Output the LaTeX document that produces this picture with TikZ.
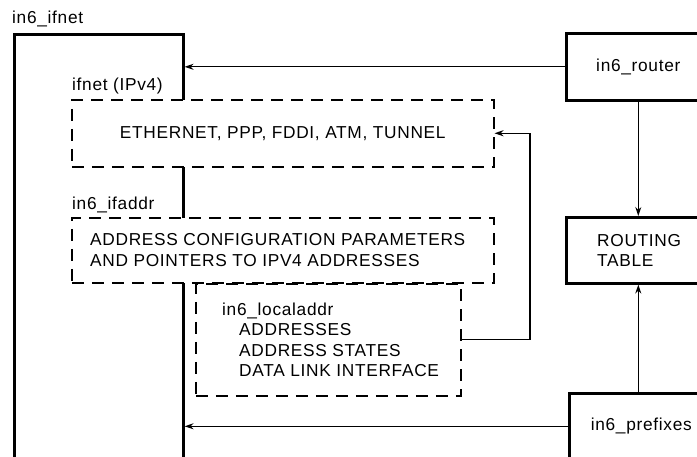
\documentclass[tikz,border=0pt]{standalone}
\usepackage{fontspec}
\setmainfont{Liberation Sans}[LetterSpace=4]
\usetikzlibrary{arrows.meta,positioning}
\tikzset{
  solidbox/.style={draw, line width=2.6pt, inner sep=0pt},
  dashbox/.style={draw, fill=white, line width=1.5pt, dash pattern=on 12pt off 8pt, inner sep=0pt},
  link/.style={-{Stealth[length=9pt, width=6pt]}, line width=1.2pt},
  lbl/.style={font=\fontsize{17.3}{20.5}\selectfont, inner sep=0pt},
  body/.style={lbl, align=left},
}

\begin{document}
\begin{tikzpicture}[x=1pt, y=-1pt]
  \useasboundingbox (0,0) rectangle (697,456);
  \clip (0,0) rectangle (697,456);
  % outer structure
  \node[solidbox, anchor=north west, minimum width=169pt, minimum height=450pt] (ifnet) at (13,33) {};
  \node[lbl, anchor=base west] (ifnetlbl) at (12,23) {in6\_ifnet};
  % interface list (IPv4)
  \node[dashbox, anchor=north west, minimum width=422pt, minimum height=67pt] (ipv4) at (71,99) {};
  \node[lbl] (ipv4txt) at (ipv4.center) {ETHERNET, PPP, FDDI, ATM, TUNNEL};
  \node[lbl, anchor=base west] (ipv4lbl) at (72,90) {ifnet (IPv4)};
  % per-interface address data
  \node[dashbox, anchor=north west, minimum width=422pt, minimum height=65pt] (ifaddr) at (71,217) {};
  \node[body, anchor=west] (ifaddrtxt) at ([xshift=19pt]ifaddr.west)
    {ADDRESS CONFIGURATION PARAMETERS\\AND POINTERS TO IPV4 ADDRESSES};
  \node[lbl, anchor=base west] (ifaddrlbl) at (72,209) {in6\_ifaddr};
  \node[dashbox, anchor=north west, minimum width=265pt, minimum height=112pt] (localaddr) at (195,283) {};
  \node[body, anchor=west] (localtxt) at ([xshift=27pt]localaddr.west)
    {in6\_localaddr\\\hspace*{17pt}ADDRESSES\\\hspace*{17pt}ADDRESS STATES\\\hspace*{17pt}DATA LINK INTERFACE};
  % routing side
  \node[solidbox, anchor=north west, minimum width=144pt, minimum height=67pt, lbl] (router) at (565,32) {in6\_router};
  \node[solidbox, anchor=north west, minimum width=144pt, minimum height=66pt] (routing) at (565,216) {};
  \node[body, anchor=west] (routingtxt) at ([xshift=32pt]routing.west) {ROUTING\\TABLE};
  \node[solidbox, anchor=north west, minimum width=138pt, minimum height=66pt, lbl] (prefixes) at (568,392) {\hspace*{6pt}in6\_prefixes};
  % links
  \coordinate (turn) at (530,0);
  \draw[link] (router.west) -- (router.west -| ifnet.east);
  \draw[link] (prefixes.west) -- (prefixes.west -| ifnet.east);
  \draw[link] (router.south) -- (routing.north);
  \draw[link] (prefixes.north) -- (routing.south);
  \draw[link] (localaddr.east) -- (localaddr.east -| turn) |- (ipv4.east);
\end{tikzpicture}
\end{document}
